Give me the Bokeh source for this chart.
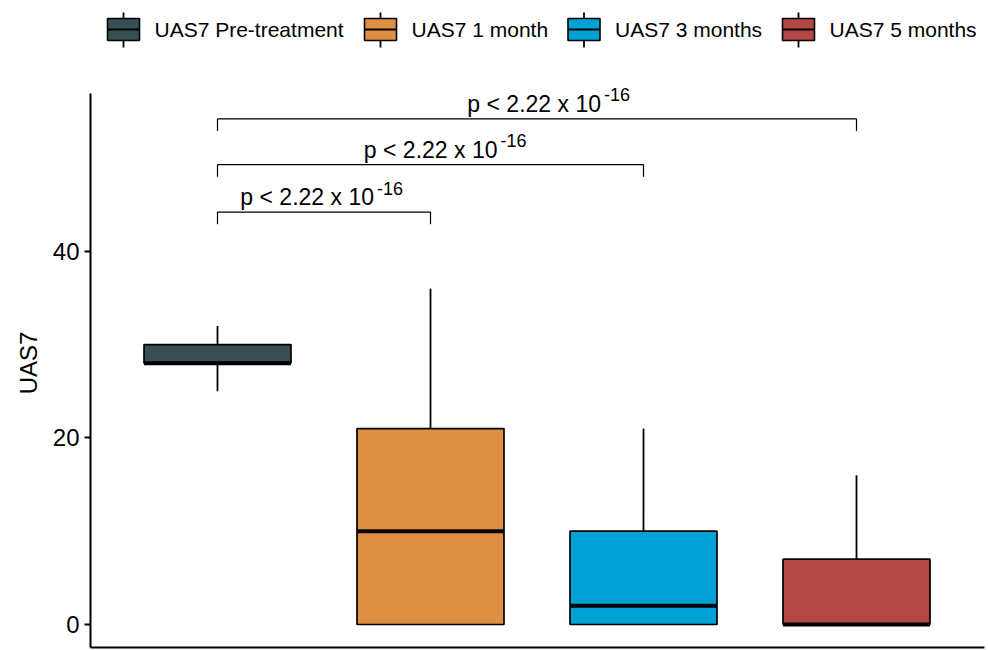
from bokeh.plotting import figure
from bokeh.models import Range1d, FixedTicker, ColumnDataSource
from bokeh.layouts import column
from bokeh.core.properties import value
from bokeh.embed import file_html
from bokeh.resources import INLINE

# ---------------- data ----------------
categories = ["UAS7 Pre-treatment", "UAS7 1 month", "UAS7 3 months", "UAS7 5 months"]
positions = [1, 2, 3, 4]
lower = [25, 0, 0, 0]
q1 = [28, 0, 0, 0]
median = [28, 10, 2, 0]
q3 = [30, 21, 10, 7]
upper = [32, 36, 21, 16]
colors = ["#374E55", "#DF8F44", "#00A1D5", "#B24745"]

y_ticks = [0, 20, 40]

comp_start = [1, 1, 1]
comp_end = [2, 3, 4]
bracket_y = [44.2, 49.3, 54.2]
bracket_tip = 1.3
p_main = ["p < 2.22 x 10", "p < 2.22 x 10", "p < 2.22 x 10"]
p_sup = ["-16", "-16", "-16"]

FONT = "Liberation Sans"

W, H = 988, 650
LEG_H = 78
FRAME_L, FRAME_R = 90, 984

# ---------------- legend (separate strip) ----------------
leg = figure(width=W, height=LEG_H, output_backend="svg", toolbar_location=None,
             x_range=Range1d(FRAME_L, FRAME_R), y_range=Range1d(LEG_H, 0),
             min_border_left=FRAME_L, min_border_right=W - FRAME_R,
             min_border_top=0, min_border_bottom=0, outline_line_color=None)
leg.axis.visible = False
leg.grid.visible = False

key_x = [123, 380, 583.5, 798]
key_half = 16
kx0 = [k - key_half for k in key_x]
kx1 = [k + key_half for k in key_x]
leg.segment(x0=key_x, y0=[12] * 4, x1=key_x, y1=[47] * 4, line_color="black", line_width=1.8)
leg.quad(left=kx0, right=kx1, top=[18] * 4, bottom=[40] * 4, fill_color=colors,
         line_color="black", line_width=1.6)
leg.segment(x0=kx0, y0=[29] * 4, x1=kx1, y1=[29] * 4, line_color="black", line_width=2.2)
leg.text(x=[k + 31 for k in key_x], y=[29] * 4, text=categories,
         text_font=value(FONT), text_font_size="21px", text_color="black",
         text_baseline="middle", text_align="left")

# ---------------- main plot ----------------
PX_PER_X = 213.0
PX_PER_Y = 9.33
FRAME_T, FRAME_B = LEG_H, 647
AXIS_TOP = 93             # pixel where the y axis line stops
X0_PX, Y0_PX = 217, 624   # pixel position of category 1 and of value 0
x_start = 1 - (X0_PX - FRAME_L) / PX_PER_X
x_end = 1 + (FRAME_R - X0_PX) / PX_PER_X
y_end = (Y0_PX - FRAME_T) / PX_PER_Y
y_start = (Y0_PX - FRAME_B) / PX_PER_Y
y_axis_top = (Y0_PX - AXIS_TOP) / PX_PER_Y

p = figure(width=W, height=H - LEG_H, output_backend="svg", toolbar_location=None,
           x_range=Range1d(x_start, x_end), y_range=Range1d(y_start, y_end),
           min_border_left=FRAME_L, min_border_right=W - FRAME_R,
           min_border_top=FRAME_T - LEG_H, min_border_bottom=H - FRAME_B,
           outline_line_color=None)
p.grid.visible = False

# y axis
p.yaxis.ticker = FixedTicker(ticks=y_ticks)
p.yaxis.bounds = (y_start, y_axis_top)
p.yaxis.axis_label = "UAS7"
p.yaxis.axis_label_text_font = FONT
p.yaxis.axis_label_text_font_size = "24px"
p.yaxis.axis_label_text_font_style = "normal"
p.yaxis.axis_label_text_color = "black"
p.yaxis.axis_label_standoff = 8
p.yaxis.major_label_text_font = FONT
p.yaxis.major_label_text_font_size = "24px"
p.yaxis.major_label_text_color = "black"
p.yaxis.major_label_standoff = 5
p.yaxis.major_tick_in = 0
p.yaxis.major_tick_out = 6
p.yaxis.major_tick_line_width = 2
p.yaxis.minor_tick_line_color = None
p.yaxis.axis_line_width = 2
p.yaxis.axis_line_color = "black"
p.yaxis.major_tick_line_color = "black"

# x axis: line only
p.xaxis.ticker = FixedTicker(ticks=[])
p.xaxis.major_label_text_font_size = "0px"
p.xaxis.major_tick_line_color = None
p.xaxis.minor_tick_line_color = None
p.xaxis.major_label_standoff = 0
p.xaxis.axis_line_width = 2
p.xaxis.axis_line_color = "black"

src = ColumnDataSource(dict(x=positions, lower=lower, q1=q1, median=median, q3=q3,
                            upper=upper, color=colors, cat=categories))
box_w = 0.69

# whiskers
p.segment(x0="x", y0="q3", x1="x", y1="upper", source=src, line_color="black", line_width=1.8)
p.segment(x0="x", y0="q1", x1="x", y1="lower", source=src, line_color="black", line_width=1.8)
# boxes
p.vbar(x="x", bottom="q1", top="q3", width=box_w, source=src, fill_color="color",
       line_color="black", line_width=1.7)
# medians
mx0 = [x - box_w / 2 for x in positions]
mx1 = [x + box_w / 2 for x in positions]
p.segment(x0=mx0, y0=median, x1=mx1, y1=median, line_color="black", line_width=4)

# significance brackets
tip_y = [b - bracket_tip for b in bracket_y]
p.segment(x0=comp_start, y0=bracket_y, x1=comp_end, y1=bracket_y, line_color="black", line_width=1.2)
p.segment(x0=comp_start, y0=bracket_y, x1=comp_start, y1=tip_y, line_color="black", line_width=1.2)
p.segment(x0=comp_end, y0=bracket_y, x1=comp_end, y1=tip_y, line_color="black", line_width=1.2)

label_dx = [50, 67, 64]  # pixel shift of the label anchor from bracket centre
mids = [(a + b) / 2 for a, b in zip(comp_start, comp_end)]
main_y = [b + 15 / PX_PER_Y for b in bracket_y]
sup_y = [b + 24 / PX_PER_Y for b in bracket_y]
lab = ColumnDataSource(dict(x=mids, y=main_y, y2=sup_y, main=p_main, sup=p_sup, dx=label_dx,
                            dx2=[d + 3 for d in label_dx]))
p.text(x="x", y="y", text="main", source=lab, x_offset="dx",
       text_font=value(FONT), text_font_size="23px", text_color="black",
       text_align="right", text_baseline="alphabetic")
p.text(x="x", y="y2", text="sup", source=lab, x_offset="dx2",
       text_font=value(FONT), text_font_size="18px", text_color="black",
       text_align="left", text_baseline="alphabetic")

layout = column(leg, p, spacing=0)
open("out.html", "w").write(file_html(layout, INLINE))
